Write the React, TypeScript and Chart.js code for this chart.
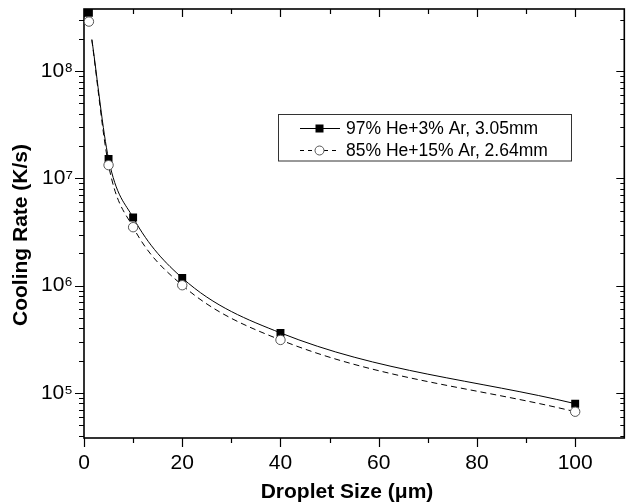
import { useEffect, useRef } from 'react';
import { Chart, registerables } from 'chart.js';

Chart.register(...registerables);

// ---- data ----
const dropletSizes = [1, 5, 10, 20, 40, 100];
const rateHe97 = [3.5e8, 1.52e7, 4.32e6, 1.18e6, 3.63e5, 7.94e4];
const rateHe85 = [2.9e8, 1.33e7, 3.51e6, 1.01e6, 3.12e5, 6.68e4];

const curveSizes = [1.6, 5, 10, 20, 40, 100];
const curveHe97 = [1.98e8, 1.52e7, 4.32e6, 1.18e6, 3.63e5, 7.94e4];
const curveHe85 = [1.95e8, 1.33e7, 3.51e6, 1.01e6, 3.12e5, 6.68e4];

const seriesLabels = ['97% He+3% Ar, 3.05mm', '85% He+15% Ar, 2.64mm'];
const xTitle = 'Droplet Size (μm)';
const yTitle = 'Cooling Rate (K/s)';
const xMajorTicks = [0, 20, 40, 60, 80, 100];
const xMinorTicks = [10, 30, 50, 70, 90];
const yDecades = [1e5, 1e6, 1e7, 1e8];
const yMinorMultipliers = [2, 3, 4, 5, 6, 7, 8, 9];
const xRange = [0, 110];
const yRange = [3.8e4, 3.8e8];

const FONT = '"Liberation Sans", Arial, Helvetica, sans-serif';
const SUP = ['⁰', '¹', '²', '³', '⁴', '⁵', '⁶', '⁷', '⁸', '⁹'];
const supNum = (n: number) => String(n).split('').map((c) => SUP[+c]).join('');

const toPoints = (xs: number[], ys: number[]) => xs.map((x, i) => ({ x, y: ys[i] }));

const framePlugin = {
  id: 'frameTicks',
  beforeDatasetsDraw(chart: any) {
    const { ctx, chartArea, scales } = chart;
    const { left, right, top, bottom } = chartArea;
    const x = scales.x;
    const y = scales.y;
    ctx.save();
    ctx.strokeStyle = '#000';
    ctx.lineWidth = 1.6;
    ctx.strokeRect(left, top, right - left, bottom - top);
    ctx.lineWidth = 1.2;
    ctx.beginPath();
    for (const v of xMajorTicks) {
      const px = Math.round(x.getPixelForValue(v)) + 0.5;
      ctx.moveTo(px, bottom);
      ctx.lineTo(px, bottom + 9);
      ctx.moveTo(px, top);
      ctx.lineTo(px, top + 8);
    }
    for (const v of xMinorTicks) {
      const px = Math.round(x.getPixelForValue(v)) + 0.5;
      ctx.moveTo(px, bottom);
      ctx.lineTo(px, bottom + 5);
      ctx.moveTo(px, top);
      ctx.lineTo(px, top + 5);
    }
    for (const d of yDecades) {
      const py = Math.round(y.getPixelForValue(d)) + 0.5;
      ctx.moveTo(left - 9, py);
      ctx.lineTo(left, py);
      ctx.moveTo(right - 8, py);
      ctx.lineTo(right, py);
    }
    const decs = [1e4, ...yDecades];
    for (const d of decs) {
      for (const m of yMinorMultipliers) {
        const v = d * m;
        if (v < yRange[0] || v > yRange[1]) continue;
        const py = Math.round(y.getPixelForValue(v)) + 0.5;
        ctx.moveTo(left - 5, py);
        ctx.lineTo(left, py);
        ctx.moveTo(right - 4, py);
        ctx.lineTo(right, py);
      }
    }
    ctx.stroke();
    ctx.restore();
  },
};

const titlesAndLegendPlugin = {
  id: 'titlesLegend',
  afterDraw(chart: any) {
    const { ctx } = chart;
    ctx.save();
    // axis titles
    ctx.fillStyle = '#000';
    ctx.font = `bold 21px ${FONT}`;
    ctx.textAlign = 'center';
    ctx.textBaseline = 'middle';
    ctx.fillText(xTitle, 347, 492);
    ctx.save();
    ctx.translate(21.5, 235);
    ctx.rotate(-Math.PI / 2);
    ctx.fillText(yTitle, 0, 0);
    ctx.restore();

    // legend
    const bx = 278.5;
    const by = 114.5;
    const bw = 293;
    const bh = 46.5;
    ctx.strokeStyle = '#333';
    ctx.lineWidth = 1;
    ctx.strokeRect(bx, by, bw, bh);
    const rows = [
      { y: 128.5, dash: [] as number[], marker: 'square' },
      { y: 150.5, dash: [4, 4], marker: 'circle' },
    ];
    rows.forEach((r, i) => {
      ctx.setLineDash(r.dash);
      ctx.strokeStyle = '#000';
      ctx.lineWidth = 1;
      ctx.beginPath();
      ctx.moveTo(300, r.y);
      ctx.lineTo(340, r.y);
      ctx.stroke();
      ctx.setLineDash([]);
      if (r.marker === 'square') {
        ctx.fillStyle = '#000';
        ctx.fillRect(315.5, r.y - 4, 8, 8);
      } else {
        ctx.beginPath();
        ctx.arc(319.5, r.y, 4.5, 0, Math.PI * 2);
        ctx.fillStyle = '#fff';
        ctx.fill();
        ctx.strokeStyle = '#555';
        ctx.stroke();
      }
      ctx.fillStyle = '#000';
      ctx.font = `17.5px ${FONT}`;
      ctx.textBaseline = 'middle';
      ctx.textAlign = 'left';
      ctx.fillText(seriesLabels[i], 346, r.y + 1);
    });
    ctx.restore();
  },
};

export default function App() {
  const ref = useRef<HTMLCanvasElement>(null);
  useEffect(() => {
    if (!ref.current) return;
    const chart = new Chart(ref.current, {
      type: 'scatter',
      data: {
        datasets: [
          {
            label: seriesLabels[1] + ' markers',
            data: toPoints(dropletSizes, rateHe85),
            showLine: false,
            pointStyle: 'circle',
            pointRadius: 4.7,
            pointBackgroundColor: '#fff',
            pointBorderColor: '#555',
            pointBorderWidth: 1,
            order: 0,
          },
          {
            label: seriesLabels[0] + ' markers',
            data: toPoints(dropletSizes, rateHe97),
            showLine: false,
            pointStyle: 'rect',
            pointRadius: 5.6,
            pointBackgroundColor: '#000',
            pointBorderColor: '#000',
            pointBorderWidth: 0,
            order: 1,
          },
          {
            label: seriesLabels[0],
            data: toPoints(curveSizes, curveHe97),
            showLine: true,
            borderColor: '#000',
            borderWidth: 1,
            pointRadius: 0,
            cubicInterpolationMode: 'monotone',
            order: 2,
          },
          {
            label: seriesLabels[1],
            data: toPoints(curveSizes, curveHe85),
            showLine: true,
            borderColor: '#000',
            borderWidth: 1,
            borderDash: [6, 4],
            pointRadius: 0,
            cubicInterpolationMode: 'monotone',
            order: 3,
          },
        ],
      },
      options: {
        responsive: false,
        animation: false,
        layout: { padding: { left: 0, right: 1, top: 9, bottom: 0 } },
        plugins: {
          legend: { display: false },
          tooltip: { enabled: false },
        },
        scales: {
          x: {
            type: 'linear',
            position: 'bottom',
            min: xRange[0],
            max: xRange[1],
            grid: { display: false, drawTicks: false },
            border: { display: false },
            afterBuildTicks: (s: any) => {
              s.ticks = xMajorTicks.map((v) => ({ value: v }));
            },
            afterFit: (s: any) => {
              s.height = 65;
              s.paddingLeft = 0;
              s.paddingRight = 0;
            },
            ticks: {
              color: '#000',
              padding: 13,
              maxRotation: 0,
              font: { family: FONT, size: 21 },
              callback: (v: any) => String(v),
            },
            title: { display: false, text: xTitle },
          },
          y: {
            type: 'logarithmic',
            position: 'left',
            min: yRange[0],
            max: yRange[1],
            grid: { display: false, drawTicks: false },
            border: { display: false },
            afterBuildTicks: (s: any) => {
              s.ticks = yDecades.map((v) => ({ value: v }));
            },
            afterFit: (s: any) => {
              s.width = 84;
              s.paddingTop = 0;
              s.paddingBottom = 0;
            },
            ticks: {
              color: '#000',
              padding: 11,
              font: { family: FONT, size: 21 },
              callback: (v: any) => '10' + supNum(Math.round(Math.log10(Number(v)))),
            },
            title: { display: false, text: yTitle },
          },
        },
      },
      plugins: [framePlugin, titlesAndLegendPlugin],
    } as any);
    return () => chart.destroy();
  }, []);
  return (
    <div style={{ position: 'absolute', left: 0, top: 0, width: 630, height: 503, background: '#fff' }}>
      <canvas ref={ref} width={630} height={503} style={{ display: 'block' }} />
    </div>
  );
}
